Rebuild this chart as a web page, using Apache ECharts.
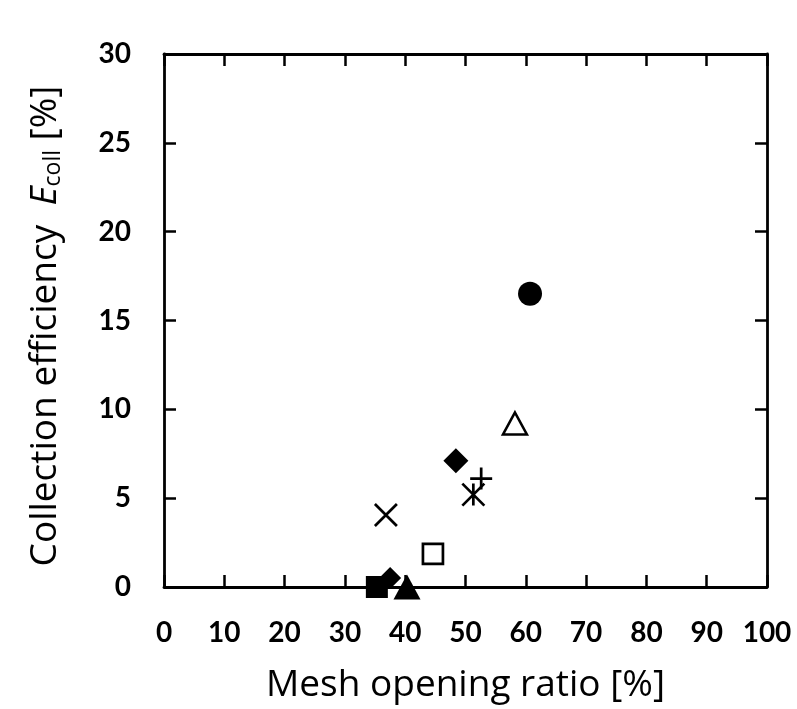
<!DOCTYPE html>
<html><head><meta charset="utf-8">
<script src="https://cdn.jsdelivr.net/npm/echarts@6/dist/echarts.min.js"></script>
<style>html,body{margin:0;padding:0;background:#fff}#c{width:797px;height:709px}</style>
</head><body><div id="c"></div>
<script>
// Data
const pointNames = ['circle','openTriangle','diamond','plus','asterisk','cross','openSquare','square','smallDiamond','triangle'];
const xValues = [60.7, 58.2, 48.4, 52.6, 51.3, 36.8, 44.6, 35.3, 37.5, 40.3];
const yValues = [16.5, 9.2, 7.1, 6.1, 5.2, 4.05, 1.86, 0, 0.5, 0];
const xTicks = [0,10,20,30,40,50,60,70,80,90,100];
const yTicks = [0,5,10,15,20,25,30];

const styles = {
  circle:      {symbol:'circle', size:24, color:'#000', border:'#000', bw:0},
  openTriangle:{symbol:'triangle', size:[24,22], color:'#fff', border:'#000', bw:2.5},
  diamond:     {symbol:'diamond', size:[25,25], color:'#000', border:'#000', bw:0},
  plus:        {symbol:'path://M0,11L22,11M11,0L11,22', size:[22,22], color:'none', border:'#000', bw:2.7},
  asterisk:    {symbol:'path://M0,0L22,22M22,0L0,22M11,0L11,22', size:[22,22], color:'none', border:'#000', bw:2.7},
  cross:       {symbol:'path://M0,0L22,22M22,0L0,22', size:[22,22], color:'none', border:'#000', bw:2.7},
  openSquare:  {symbol:'rect', size:[20,20], color:'#fff', border:'#000', bw:2.7},
  square:      {symbol:'rect', size:[22,22], color:'#000', border:'#000', bw:0},
  smallDiamond:{symbol:'diamond', size:[22,22], color:'#000', border:'#000', bw:0},
  triangle:    {symbol:'triangle', size:[27,25], color:'#000', border:'#000', bw:0}
};

const series = pointNames.map((n,i)=>{
  const s = styles[n];
  return {
    name:n, type:'scatter', xAxisIndex:0, yAxisIndex:0,
    data:[[xValues[i], yValues[i]]],
    symbol:s.symbol, symbolSize:s.size,
    itemStyle:{color:s.color, borderColor:s.border, borderWidth:s.bw, opacity:1},
    z: 5 + (n==='square'?2:0) + (n==='triangle'?1:0),
    emphasis:{disabled:true}
  };
});

const axisLine = {show:true, onZero:false, lineStyle:{color:'#000', width:2.8}};
const axisTick = {show:true, inside:true, length:12, lineStyle:{color:'#000', width:2.5}};
const labelFont = {fontFamily:'Lato', fontWeight:'bold', fontSize:28, color:'#000'};
const titleFont = 'Open Sans';

const option = {
  animation:false,
  backgroundColor:'#fff',
  grid:{left:164, right:30, top:54, bottom:122, containLabel:false},
  xAxis:[
    {type:'value', min:0, max:100, interval:10, position:'bottom',
     axisLine, axisTick, splitLine:{show:false},
     axisLabel:Object.assign({margin:32, formatter:v=>xTicks.includes(v)?String(v):''}, labelFont),
     name:'Mesh opening ratio [%]', nameLocation:'middle', nameGap:80,
     nameTextStyle:{fontFamily:titleFont, fontSize:37, color:'#000'}},
    {type:'value', min:0, max:100, interval:10, position:'top',
     axisLine, axisTick, splitLine:{show:false}, axisLabel:{show:false}}
  ],
  yAxis:[
    {type:'value', min:0, max:30, interval:5, position:'left',
     axisLine, axisTick, splitLine:{show:false},
     axisLabel:Object.assign({margin:33, formatter:v=>yTicks.includes(v)?String(v):''}, labelFont)},
    {type:'value', min:0, max:30, interval:5, position:'right',
     axisLine, axisTick, splitLine:{show:false}, axisLabel:{show:false}}
  ],
  graphic:[{
    type:'text', x:45, y:326, rotation:Math.PI/2,
    style:{
      text:'Collection efficiency  {i|E}{s|coll} [%]',
      fontFamily:titleFont, fontSize:37, fill:'#000',
      align:'center', verticalAlign:'middle',
      rich:{
        i:{fontFamily:titleFont, fontStyle:'italic', fontSize:37, fill:'#000'},
        s:{fontFamily:titleFont, fontSize:23, fill:'#000', padding:[17,0,0,0], verticalAlign:'bottom'}
      }
    }
  }],
  series
};
const chart = echarts.init(document.getElementById('c'), null, {renderer:'canvas'});
chart.setOption(option);
</script></body></html>
